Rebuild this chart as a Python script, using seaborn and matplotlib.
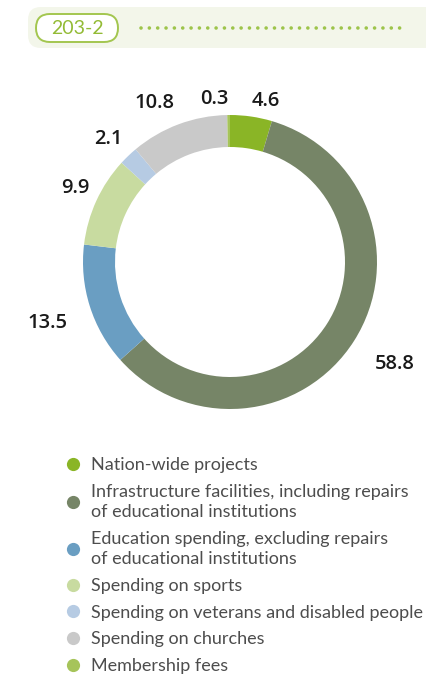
import matplotlib
matplotlib.use("Agg")
from matplotlib import pyplot as plt
from matplotlib.patches import FancyBboxPatch
from matplotlib.lines import Line2D
import numpy as np
import seaborn as sns

sns.set_theme(style="white")
plt.rcParams["font.family"] = ["Lato", "DejaVu Sans"]

# data
tag = "203-2"
categories = [
    "Nation-wide projects",
    "Infrastructure facilities, including repairs\nof educational institutions",
    "Education spending, excluding repairs\nof educational institutions",
    "Spending on sports",
    "Spending on veterans and disabled people",
    "Spending on churches",
    "Membership fees",
]
shares = [4.6, 58.8, 13.5, 9.9, 2.1, 10.8, 0.3]
colors = ["#8ab526", "#768567", "#6a9ec2", "#c8dba0", "#b6cbe3", "#c9c9c9", "#a6c45a"]
label_dist = [1.04, 1.17, 1.16, 1.05, 1.06, 1.08, 1.04]

fig = plt.figure(figsize=(4.26, 6.77), dpi=100)
fig.patch.set_facecolor("white")

# header strip, drawn in pixel coords
hdr = fig.add_axes([0, 0, 1, 1])
hdr.set_xlim(0, 426)
hdr.set_ylim(677, 0)
hdr.axis("off")
hdr.add_patch(FancyBboxPatch((28, 7), 410, 41, boxstyle="round,pad=0,rounding_size=13",
                             facecolor="#f3f6ea", edgecolor="none"))
hdr.add_patch(FancyBboxPatch((36, 14), 82, 28, boxstyle="round,pad=0,rounding_size=14",
                             facecolor="white", edgecolor="#a3c64f", linewidth=1.4))
hdr.text(77, 28.5, tag, color="#93bb35", fontsize=14, ha="center", va="center")
hdr.plot([141, 404], [28, 28], color="#9dc44a", linewidth=2.6,
         linestyle=(0, (0.01, 2.3)), dash_capstyle="round")

# donut
ax = fig.add_axes([83 / 426, 1 - 409 / 677, 294 / 426, 294 / 677])
wedges, texts = ax.pie(shares, colors=colors, startangle=90, counterclock=False,
                       labels=[f"{v:.1f}" for v in shares], labeldistance=1.12,
                       wedgeprops={"width": 32 / 147, "edgecolor": "none"},
                       textprops={"fontsize": 14.5, "fontweight": "semibold",
                                  "color": "#1a1a1a", "family": ["Open Sans", "DejaVu Sans"]})
for w, t, d in zip(wedges, texts, label_dist):
    ang = np.deg2rad((w.theta1 + w.theta2) / 2)
    x, y = d * np.cos(ang), d * np.sin(ang)
    t.set_position((x, y))
    t.set_ha("left" if x > 0 else "right")
    t.set_va("bottom" if y > 0.3 else ("top" if y < -0.3 else "center"))
ax.set_xlim(-1, 1)
ax.set_ylim(-1, 1)
ax.set_aspect("equal")

# legend
handles = [Line2D([], [], marker="o", linestyle="none", markersize=9.5,
                  markerfacecolor=c, markeredgecolor="none") for c in colors]
leg = fig.legend(handles, categories, loc="upper left", bbox_to_anchor=(64 / 426, 1 - 457 / 677),
                 frameon=False, fontsize=13, labelspacing=0.6, handlelength=1.0,
                 handletextpad=0.5, borderpad=0, borderaxespad=0)
for t in leg.get_texts():
    t.set_color("#4d4d4d")
    t.set_linespacing(1.32)

plt.savefig("out.png", dpi=100)
